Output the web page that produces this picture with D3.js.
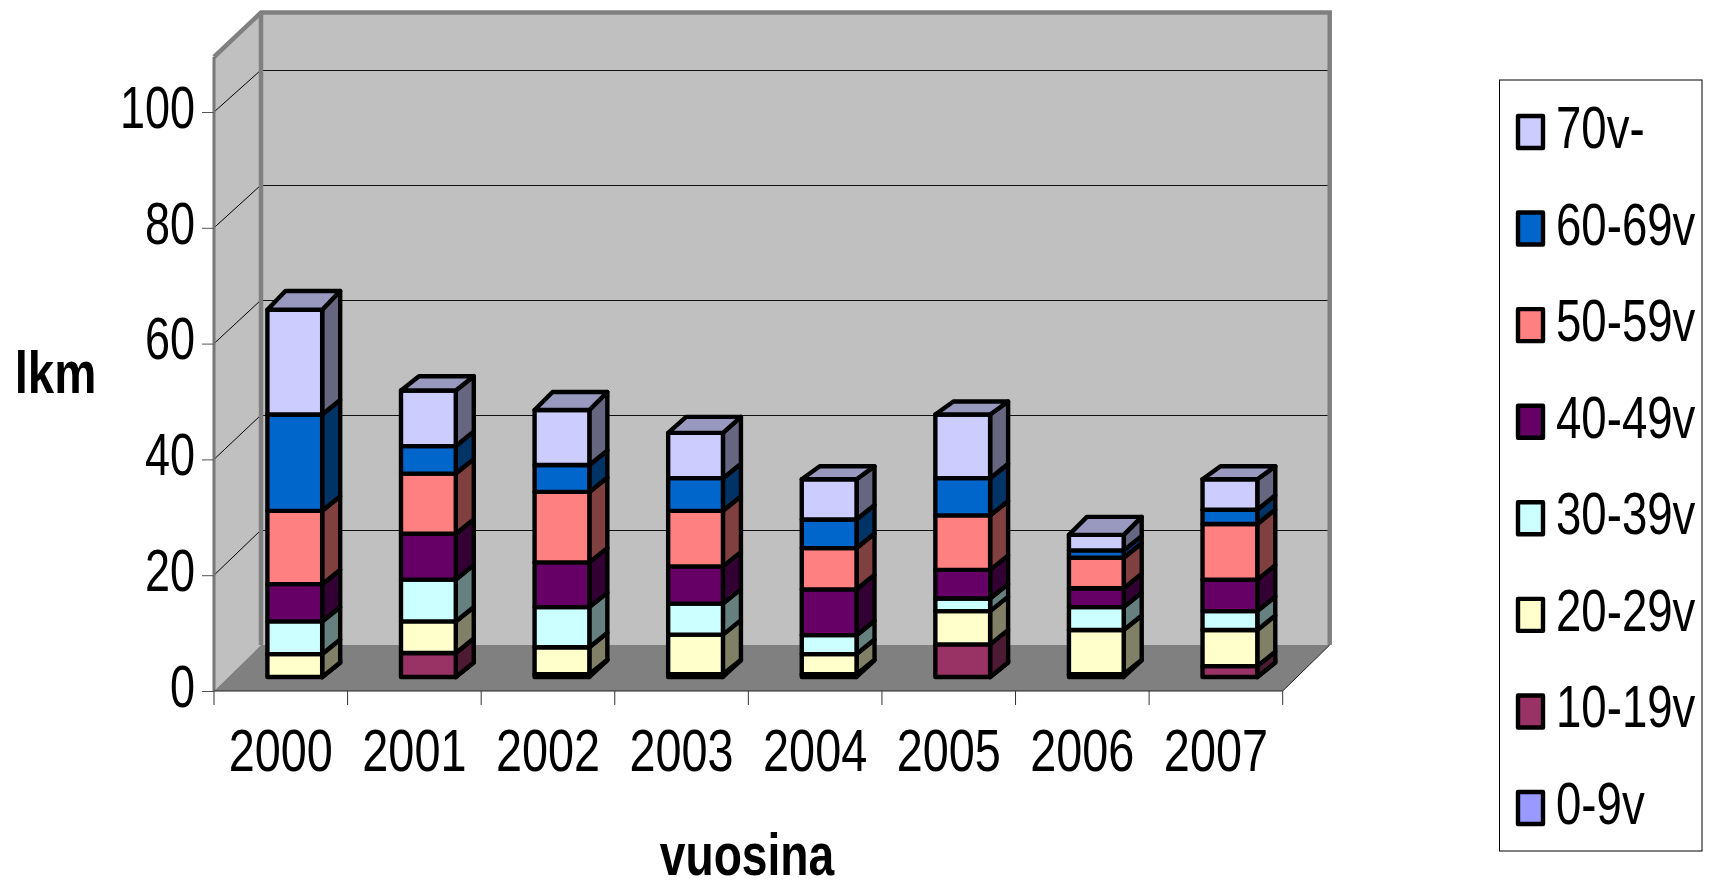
<!DOCTYPE html>
<html>
<head>
<meta charset="utf-8">
<script src="https://cdnjs.cloudflare.com/ajax/libs/d3/7.8.5/d3.min.js"></script>
<style>
    body { margin: 0; background: #fff; }
    svg { display: block; font-family: "Liberation Sans", Arial, sans-serif; }
</style>
</head>
<body>
<div class="graph"></div>
<script>
const years = ['2000', '2001', '2002', '2003', '2004', '2005', '2006', '2007'];
const ageGroups = ['0-9v', '10-19v', '20-29v', '30-39v', '40-49v', '50-59v', '60-69v', '70v-'];
const colors = ['#9999ff', '#993366', '#ffffcc', '#ccffff', '#660066', '#ff8080', '#0066cc', '#ccccff'];
const yTicks = [0, 20, 40, 60, 80, 100];

// one list per age group, same order as years
const age0 = [0, 0, 0.5, 0.5, 0.5, 0, 0.5, 0];
const age10 = [0, 4.2, 0, 0, 0, 5.7, 0, 1.9];
const age20 = [4, 5.5, 4.7, 6.9, 3.5, 5.8, 7.7, 6.3];
const age30 = [5.7, 7.3, 7, 5.4, 3.3, 2.2, 4, 3.3];
const age40 = [6.5, 8, 7.8, 6.5, 8, 5, 3.3, 5.5];
const age50 = [12.8, 10.5, 12.3, 9.7, 7.2, 9.5, 5.3, 9.7];
const age60 = [16.8, 4.8, 4.7, 5.7, 5, 6.5, 1.3, 2.5];
const age70 = [18.3, 9.7, 9.6, 7.9, 7, 11.1, 2.7, 5.3];
const ageValues = [age0, age10, age20, age30, age40, age50, age60, age70];

const svgDim = { w: 1716, h: 888 };
const plot = { left: 214, right: 1282.7, floor: 691, depthX: 47, depthY: 46 };
const barDepthX = 18;
const barRise = 14.5;
// the lid of each bar leans back by a slightly different amount in the original
const lidRise = [18.7, 14.3, 18, 16, 13, 13, 18, 13];
const textSquash = 0.75;
const barStroke = 4.4;

const svg = d3.select('.graph').append('svg')
    .attr('width', svgDim.w)
    .attr('height', svgDim.h);

// scales: front plane, back wall, and the plane the bars stand on
const xScale = d3.scaleBand().domain(years).range([plot.left, plot.right]);
const yScale = d3.scaleLinear().domain([0, 100]).range([plot.floor, 112]);
const yBack = d3.scaleLinear().domain([0, 100]).range([plot.floor - plot.depthY, 70]);
const yBar = d3.scaleLinear().domain([0, 100]).range([677, 104]);

const topBack = 110;
const topFront = 109.5;
const backX0 = plot.left + plot.depthX;
const backX1 = plot.right + plot.depthX;
const poly = pts => pts.map(p => p.join(',')).join(' ');

// walls and floor
svg.append('polygon')
    .attr('points', poly([[plot.left, plot.floor], [plot.left, yScale(topFront)], [backX0, yBack(topBack)], [backX0, yBack(0)]]))
    .attr('fill', '#c0c0c0');
svg.append('rect')
    .attr('x', backX0).attr('y', yBack(topBack))
    .attr('width', backX1 - backX0).attr('height', yBack(0) - yBack(topBack))
    .attr('fill', '#c0c0c0');
svg.append('polygon')
    .attr('points', poly([[plot.left, plot.floor], [plot.right, plot.floor], [backX1, yBack(0)], [backX0, yBack(0)]]))
    .attr('fill', '#808080');

// gridlines, skipping the floor
const gridVals = yTicks.slice(1);
svg.selectAll('.gridBack').data(gridVals).enter().append('line')
    .attr('x1', backX0).attr('x2', backX1)
    .attr('y1', d => yBack(d)).attr('y2', d => yBack(d))
    .attr('stroke', '#111').attr('stroke-width', 1)
    .attr('shape-rendering', 'crispEdges');
svg.selectAll('.gridSide').data(gridVals).enter().append('line')
    .attr('x1', plot.left).attr('x2', backX0)
    .attr('y1', d => yScale(d)).attr('y2', d => yBack(d))
    .attr('stroke', '#000').attr('stroke-width', 1);

// wall edges
svg.append('polyline')
    .attr('points', poly([[plot.left, yScale(topFront)], [backX0, yBack(topBack)], [backX1, yBack(topBack)], [backX1, yBack(0)]]))
    .attr('fill', 'none').attr('stroke', '#808080').attr('stroke-width', 4.5);
svg.append('line')
    .attr('x1', backX0).attr('x2', backX0)
    .attr('y1', yBack(topBack)).attr('y2', yBack(0))
    .attr('stroke', '#808080').attr('stroke-width', 4.5);
svg.append('line')
    .attr('x1', plot.left).attr('x2', plot.left)
    .attr('y1', yScale(topFront)).attr('y2', plot.floor)
    .attr('stroke', '#777').attr('stroke-width', 3);
svg.append('polyline')
    .attr('points', poly([[plot.left, plot.floor], [plot.right, plot.floor], [backX1, yBack(0)]]))
    .attr('fill', 'none').attr('stroke', '#222').attr('stroke-width', 1);

// stacked bars
const rows = years.map((y, i) => {
    const row = { year: y };
    ageGroups.forEach((g, j) => { row[g] = ageValues[j][i]; });
    return row;
});
const stacked = d3.stack().keys(ageGroups)(rows);
const barW = xScale.bandwidth() * 0.41;
const barX = y => xScale(y) + (xScale.bandwidth() - barW) / 2 + 14;

const shade = (c, k) => {
    const col = d3.rgb(c);
    return d3.rgb(col.r * k, col.g * k, col.b * k).formatHex();
};

years.forEach((year, i) => {
    const g = svg.append('g').attr('class', 'bar');
    const x0 = barX(year), x1 = x0 + barW;
    const last = stacked.length - 1;
    stacked.forEach((s, j) => {
        const y0 = yBar(s[i][0]), y1 = yBar(s[i][1]);
        const riseLow = j === 0 ? 16.7 : barRise;
        const riseHigh = j === last ? lidRise[i] : barRise;
        g.append('polygon')
            .attr('points', poly([[x1, y0], [x1, y1], [x1 + barDepthX, y1 - riseHigh], [x1 + barDepthX, y0 - riseLow]]))
            .attr('fill', shade(colors[j], 0.5));
        g.append('rect')
            .attr('x', x0).attr('y', y1)
            .attr('width', barW).attr('height', y0 - y1)
            .attr('fill', colors[j]);
    });
    const top = yBar(stacked[last][i][1]);
    g.append('polygon')
        .attr('points', poly([[x0, top], [x1, top], [x1 + barDepthX, top - lidRise[i]], [x0 + barDepthX, top - lidRise[i]]]))
        .attr('fill', shade(colors[last], 0.75));
    g.selectAll('polygon, rect')
        .attr('stroke', '#000').attr('stroke-width', barStroke).attr('stroke-linejoin', 'round');
});

// axes
const yAxis = d3.axisLeft(yScale).tickValues(yTicks).tickSize(12).tickPadding(7);
const yG = svg.append('g').attr('transform', `translate(${plot.left},0)`).call(yAxis);
yG.select('.domain').remove();
yG.selectAll('.tick line').attr('stroke', '#555');
yG.selectAll('.tick text')
    .attr('font-size', 60).attr('fill', '#000')
    .attr('font-family', '"Liberation Sans", Arial, sans-serif')
    .attr('x', -19 / textSquash)
    .attr('y', -4)
    .attr('transform', `scale(${textSquash},1)`);

const xAxis = d3.axisBottom(xScale).tickSize(0).tickPadding(37);
const xG = svg.append('g').attr('transform', `translate(0,${plot.floor})`).call(xAxis);
xG.select('.domain').remove();
xG.selectAll('.tick text')
    .attr('font-size', 60).attr('fill', '#000')
    .attr('font-family', '"Liberation Sans", Arial, sans-serif')
    .attr('transform', 'scale(0.78,1)');
xG.selectAll('.bandTick').data(years.concat('end')).enter().append('line')
    .attr('x1', (d, i) => plot.left + i * xScale.bandwidth())
    .attr('x2', (d, i) => plot.left + i * xScale.bandwidth())
    .attr('y1', 0).attr('y2', 14)
    .attr('stroke', '#333');

// axis titles
svg.append('text').text('lkm')
    .attr('transform', 'translate(55.5,393) scale(0.79,1)')
    .attr('text-anchor', 'middle')
    .attr('font-size', 60).attr('font-weight', 'bold');
svg.append('text').text('vuosina')
    .attr('transform', 'translate(747,875) scale(0.77,1)')
    .attr('text-anchor', 'middle')
    .attr('font-size', 60).attr('font-weight', 'bold');

// legend, top entry is the top of the stack
const legendY = d3.scalePoint()
    .domain(ageGroups.slice().reverse())
    .range([132, 808]);
svg.append('rect')
    .attr('x', 1499.5).attr('y', 80)
    .attr('width', 202.5).attr('height', 771)
    .attr('fill', '#fff').attr('stroke', '#000').attr('stroke-width', 1);
ageGroups.forEach((name, j) => {
    svg.append('rect')
        .attr('x', 1518).attr('y', legendY(name) - 16)
        .attr('width', 25).attr('height', 32)
        .attr('fill', colors[j])
        .attr('stroke', '#000').attr('stroke-width', barStroke).attr('stroke-linejoin', 'round');
    svg.append('text').text(name)
        .attr('transform', `translate(1556,${legendY(name) + 16}) scale(0.76,1)`)
        .attr('font-size', 60);
});
</script>
</body>
</html>
